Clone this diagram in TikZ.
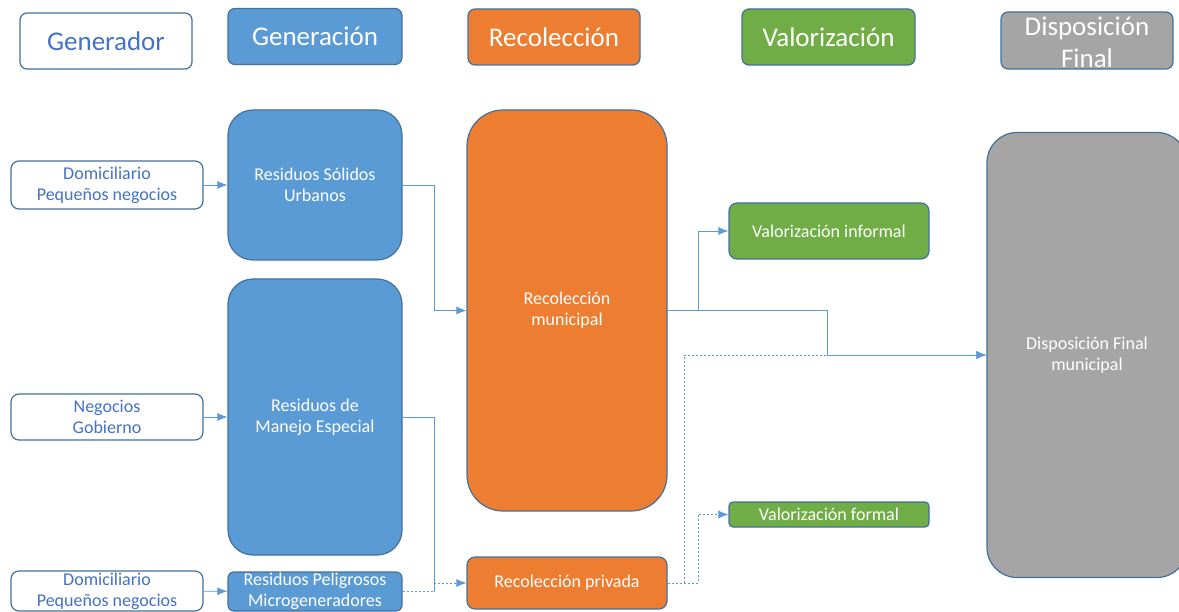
\documentclass[tikz,border=0pt]{standalone}
\usepackage{fontspec}
\setmainfont{Carlito}
\usetikzlibrary{arrows.meta}
\definecolor{genblue}{HTML}{5B9BD5}
\definecolor{recorange}{HTML}{ED7D31}
\definecolor{valgreen}{HTML}{70AD47}
\definecolor{dispgray}{HTML}{A5A5A5}
\definecolor{edgeblue}{HTML}{41719C}
\definecolor{txtblue}{HTML}{4472C4}

\begin{document}
\begin{tikzpicture}[x=1pt,y=-1pt,
    box/.style={draw=edgeblue, line width=1.2pt, inner sep=0pt, align=center,
      text=white, font=\fontsize{18}{21}\selectfont},
    hdr/.style={box, minimum width=172, minimum height=56, rounded corners=7,
      font=\fontsize{27}{32}\selectfont},
    whitebox/.style={box, fill=white, text=txtblue, minimum width=192, rounded corners=8},
    link/.style={draw=genblue, line width=0.8pt, -{Latex[length=10pt,width=8pt]}},
    dotline/.style={dash pattern=on 2pt off 2pt}]
  \clip (0,0) rectangle (1179,612);

  % Draw the column headers
  \node[whitebox, hdr, fill=white, text=txtblue, minimum width=172] (hgenr) at (106,41) {Generador};
  \node[hdr, fill=genblue, minimum width=174] (hgen) at (315,36.5) {Generación};
  \node[hdr, fill=recorange] (hrec) at (554,37) {Recolección};
  \node[hdr, fill=valgreen, minimum width=173] (hval) at (828.5,37) {Valorización};
  \node[hdr, fill=dispgray, minimum height=57] (hdisp) at (1087,40.5) {};
  \node[font=\fontsize{27}{32}\selectfont, text=white, align=center] at (1087,42) {Disposición\\Final};

  % Draw the generators
  \node[whitebox, minimum height=48] (dom1) at (107,185) {Domiciliario\\Pequeños negocios};
  \node[whitebox, minimum height=46] (neg) at (107,417) {Negocios\\Gobierno};
  \node[whitebox, minimum height=40] (dom2) at (107,591) {Domiciliario\\Pequeños negocios};

  % Draw the waste types
  \node[box, fill=genblue, minimum width=174, minimum height=150, rounded corners=25] (rsu) at (315,185) {Residuos Sólidos\\Urbanos};
  \node[box, fill=genblue, minimum width=174, minimum height=276, rounded corners=25] (rme) at (315,417) {Residuos de\\Manejo Especial};
  \node[box, fill=genblue, minimum width=174, minimum height=39, rounded corners=6] (rp) at (315,591.5) {Residuos Peligrosos\\Microgeneradores};

  % Draw the collection
  \node[box, fill=recorange, minimum width=200, minimum height=401, rounded corners=36] (mun) at (567,310.5) {Recolección\\municipal};
  \node[box, fill=recorange, minimum width=200, minimum height=52, rounded corners=8] (priv) at (567,583) {Recolección privada};

  % Draw the recovery
  \node[box, fill=valgreen, minimum width=200, minimum height=56, rounded corners=8] (vinf) at (829,231) {Valorización informal};
  \node[box, fill=valgreen, minimum width=200, minimum height=25, rounded corners=4] (vfor) at (829,514.5) {Valorización formal};

  % Draw the final disposal
  \node[box, fill=dispgray, minimum width=200, minimum height=445, rounded corners=30] (dfm) at (1087,355) {Disposición Final\\municipal};

  % Junction columns
  \coordinate (jg) at (434,0);
  \coordinate (jp) at (684,0);
  \coordinate (jv) at (698,0);
  \coordinate (jd) at (827,0);

  % Draw the connectors
  \draw[link] (dom1) -- (rsu);
  \draw[link] (neg) -- (rme);
  \draw[link] (dom2) -- (rp);

  \draw[link] (rsu.east) -- (rsu.east -| jg) |- (mun.west);
  \draw[link, -] (rme.east) -- (rme.east -| jg);
  \draw[link, -] (rme.east -| jg) -- (rp.east -| jg);
  \draw[link, dotline] (rp.east) -- (rp.east -| jg) |- (priv.west);

  \draw[link, dotline] (priv.east) -- (priv.east -| jp) |- (dfm.west);
  \draw[link, dotline] (priv.east) -- (priv.east -| jv) |- (vfor.west);
  \draw[link] (mun.east) -- (mun.east -| jv) |- (vinf.west);
  \draw[link] (mun.east) -- (mun.east -| jd) |- (dfm.west);
\end{tikzpicture}
\end{document}
